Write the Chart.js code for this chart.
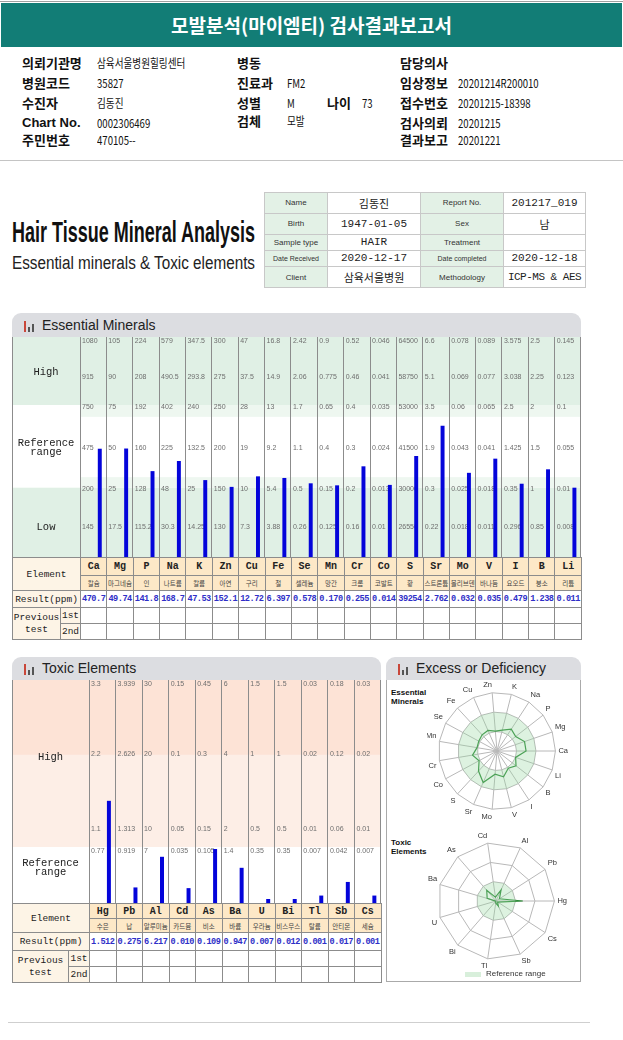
<!DOCTYPE html>
<html><head><meta charset="utf-8">
<script src="https://cdn.jsdelivr.net/npm/chart.js@4.4.1/dist/chart.umd.min.js"></script>
<style>
body{margin:0;width:623px;height:1040px;position:relative;background:#fff;overflow:hidden;font-family:"Noto Sans CJK KR",sans-serif;color:#111}
.a{position:absolute;white-space:nowrap}
.lb{font-weight:bold;font-size:13px;line-height:16px}
.v{font-size:12px;line-height:16px;transform:scaleX(.8);transform-origin:left center}
.fit{display:inline-block;transform-origin:left center}
.hdr{position:absolute;background:#dcdde1;border-radius:9px 9px 0 0;font:14px "Liberation Sans",Arial,sans-serif;color:#222}
.hdr span{position:absolute;left:30px;top:4px}
.ico{position:absolute;bottom:5px;width:2px}
table{border-collapse:collapse;table-layout:fixed;position:absolute}
td{border:1px solid #8c8c8c;padding:0;text-align:center;overflow:hidden;white-space:nowrap}
.info td{border-color:#c8c8c8}
.info .k{background:#e3f1e6;font:8px "Liberation Sans",Arial;color:#333}
.info .w{font:11px "Liberation Mono","Noto Sans CJK KR";color:#222}
.el td{font-family:"Liberation Mono",monospace;color:#222}
.el .h{background:#fde8c7}
.el .l{background:#fdf4e6;font-size:9.5px}
.el .sym{font-size:10px;font-weight:bold}
.el .kor{font-size:6.5px;font-family:"Noto Sans CJK KR";color:#444}
.el .res{font-size:8.6px;font-weight:bold;color:#2f2fc8;letter-spacing:-.5px}
</style></head>
<body>
<div class="a" style="left:0;top:1px;width:623px;height:1px;background:#a0a0a0"></div>
<div class="a" style="left:1px;top:3px;width:621px;height:44px;background:#127d76;color:#fff;font-size:19px;font-weight:bold;line-height:44px;text-align:center">모발분석(마이엠티) 검사결과보고서</div>

<div class="a lb" style="left:22px;top:55px">의뢰기관명</div><div class="a v" style="left:97px;top:55px">삼육서울병원힐링센터</div>
<div class="a lb" style="left:22px;top:75px">병원코드</div><div class="a v" style="left:97px;top:75px">35827</div>
<div class="a lb" style="left:22px;top:95px">수진자</div><div class="a v" style="left:97px;top:95px">김동진</div>
<div class="a lb" style="left:22px;top:115px;font-family:'Liberation Sans',Arial">Chart No.</div><div class="a v" style="left:97px;top:115px">0002306469</div>
<div class="a lb" style="left:22px;top:132px">주민번호</div><div class="a v" style="left:97px;top:132px">470105--</div>
<div class="a lb" style="left:237px;top:55px">병동</div>
<div class="a lb" style="left:237px;top:75px">진료과</div><div class="a v" style="left:287px;top:75px">FM2</div>
<div class="a lb" style="left:237px;top:95px">성별</div><div class="a v" style="left:287px;top:95px">M</div>
<div class="a lb" style="left:327px;top:95px">나이</div><div class="a v" style="left:362px;top:95px">73</div>
<div class="a lb" style="left:237px;top:113px">검체</div><div class="a v" style="left:287px;top:113px">모발</div>
<div class="a lb" style="left:400px;top:55px">담당의사</div>
<div class="a lb" style="left:400px;top:75px">임상정보</div><div class="a v" style="left:458px;top:75px">20201214R200010</div>
<div class="a lb" style="left:400px;top:95px">접수번호</div><div class="a v" style="left:458px;top:95px">20201215-18398</div>
<div class="a lb" style="left:400px;top:115px">검사의뢰</div><div class="a v" style="left:458px;top:115px">20201215</div>
<div class="a lb" style="left:400px;top:132px">결과보고</div><div class="a v" style="left:458px;top:132px">20201221</div>
<div class="a" style="left:0;top:160px;width:623px;height:1px;background:#c4c4c4"></div>

<div class="a" style="left:12px;top:215px"><span class="fit" data-fit="243" style="font:bold 30px 'Liberation Sans Narrow','Liberation Sans';color:#111">Hair Tissue Mineral Analysis</span></div>
<div class="a" style="left:12px;top:250px"><span class="fit" data-fit="243" style="font:18px 'Liberation Sans Narrow','Liberation Sans';color:#222">Essential minerals &amp; Toxic elements</span></div>

<table class="info" style="left:264px;top:192px;width:321px;height:96px">
<colgroup><col style="width:63px"><col style="width:93px"><col style="width:83px"><col style="width:82px"></colgroup>
<tr><td class="k">Name</td><td class="w">김동진</td><td class="k">Report No.</td><td class="w">201217_019</td></tr>
<tr><td class="k">Birth</td><td class="w">1947-01-05</td><td class="k">Sex</td><td class="w">남</td></tr>
<tr><td class="k">Sample type</td><td class="w">HAIR</td><td class="k">Treatment</td><td class="w"></td></tr>
<tr><td class="k" style="font-size:7px">Date Received</td><td class="w">2020-12-17</td><td class="k" style="font-size:7px">Date completed</td><td class="w">2020-12-18</td></tr>
<tr><td class="k">Client</td><td class="w">삼육서울병원</td><td class="k">Methodology</td><td class="w" style="letter-spacing:-.5px">ICP-MS &amp; AES</td></tr>
</table>

<div class="hdr" style="left:12px;top:313px;width:569px;height:24px"><i class="ico" style="left:12px;height:11px;background:#c9473a"></i><i class="ico" style="left:16px;height:5px;background:#555"></i><i class="ico" style="left:20px;height:8px;background:#555"></i><span>Essential Minerals</span></div>
<canvas id="eBar" class="a" width="570" height="220" style="left:12px;top:337px"></canvas>
<table id="eTab" class="el" style="left:12px;top:557px;width:570px"></table>

<div class="hdr" style="left:12px;top:657px;width:369px;height:23px"><i class="ico" style="left:12px;height:11px;background:#c9473a"></i><i class="ico" style="left:16px;height:5px;background:#555"></i><i class="ico" style="left:20px;height:8px;background:#555"></i><span style="top:3px">Toxic Elements</span></div>
<canvas id="tBar" class="a" width="370" height="223" style="left:12px;top:680px"></canvas>
<table id="tTab" class="el" style="left:12px;top:903px;width:369px"></table>

<div class="hdr" style="left:386px;top:657px;width:195px;height:23px"><i class="ico" style="left:12px;height:11px;background:#c9473a"></i><i class="ico" style="left:16px;height:5px;background:#555"></i><i class="ico" style="left:20px;height:8px;background:#555"></i><span style="top:3px">Excess or Deficiency</span></div>
<div class="a" style="left:386px;top:680px;width:193px;height:301px;border:1px solid #aaa;border-top:none"></div>
<div class="a" style="left:391px;top:688px;font:bold 8px/9px 'Liberation Sans',Arial">Essential<br>Minerals</div>
<div class="a" style="left:391px;top:838px;font:bold 8px/9px 'Liberation Sans',Arial">Toxic<br>Elements</div>
<canvas id="eRadar" class="a" width="142" height="142" style="left:427px;top:681px"></canvas>
<canvas id="tRadar" class="a" width="142" height="142" style="left:427px;top:831px"></canvas>
<div class="a" style="left:465px;top:972px;width:16px;height:5px;background:#d8efdb"></div>
<div class="a" style="left:486px;top:969px;font:8px/10px 'Liberation Sans',Arial;color:#333">Reference range</div>

<div class="a" style="left:8px;top:1022px;width:582px;height:1px;background:#cfcfcf"></div>

<script>
// essential minerals
const E_SYM = ['Ca','Mg','P','Na','K','Zn','Cu','Fe','Se','Mn','Cr','Co','S','Sr','Mo','V','I','B','Li'];
const E_KOR = ['칼슘','마그네슘','인','나트륨','칼륨','아연','구리','철','셀레늄','망간','크롬','코발트','황','스트론튬','몰리브덴','바나듐','요오드','붕소','리튬'];
const E_RESULT = [470.7,49.74,141.8,168.7,47.53,152.1,12.72,6.397,0.578,0.170,0.255,0.014,39254,2.762,0.032,0.035,0.479,1.238,0.011];
const E_TICKS = [
  [145,200,475,750,915,1080],[17.5,25,50,75,90,105],[115.2,128,160,192,208,224],[30.3,48,225,402,490.5,579],
  [14.25,25,132.5,240,293.8,347.5],[130,150,200,250,275,300],[7.3,10,19,28,37.5,47],[3.88,5.4,9.2,13,14.9,16.8],
  [0.26,0.5,1.1,1.7,2.06,2.42],[0.125,0.15,0.4,0.65,0.775,0.9],[0.16,0.2,0.3,0.4,0.46,0.52],[0.01,0.013,0.024,0.035,0.041,0.046],
  [26550,30000,41500,53000,58750,64500],[0.22,0.3,1.9,3.5,5.1,6.6],[0.018,0.025,0.043,0.06,0.069,0.078],[0.011,0.018,0.041,0.065,0.077,0.089],
  [0.296,0.35,1.425,2.5,3.038,3.575],[0.85,1,1.5,2,2.25,2.5],[0.008,0.01,0.055,0.1,0.123,0.145]
];
// toxic elements
const T_SYM = ['Hg','Pb','Al','Cd','As','Ba','U','Bi','Tl','Sb','Cs'];
const T_KOR = ['수은','납','알루미늄','카드뮴','비소','바륨','우라늄','비스무스','탈륨','안티몬','세슘'];
const T_RESULT = [1.512,0.275,6.217,0.010,0.109,0.947,0.007,0.012,0.001,0.017,0.001];
const T_TICKS = [[0.77,1.1,2.2,3.3],[0.919,1.313,2.626,3.939],[7,10,20,30],[0.035,0.05,0.1,0.15],[0.105,0.15,0.3,0.45],
  [1.4,2,4,6],[0.35,0.5,1,1.5],[0.35,0.5,1,1.5],[0.007,0.01,0.02,0.03],[0.042,0.06,0.12,0.18],[0.007,0.01,0.02,0.03]];

// where the tick levels sit on each chart (fraction of height)
const E_POS = [0.138,0.311,0.495,0.683,0.82,0.983];
const T_POS = [0.2333,0.3333,0.6667,1];

function toLevel(v, ticks, pos){
  if (v <= ticks[0]) {
    const s = (pos[1]-pos[0])/(ticks[1]-ticks[0]);
    return Math.max(0, pos[0]-(ticks[0]-v)*s);
  }
  for (let i = 1; i < ticks.length; i++)
    if (v <= ticks[i]) return pos[i-1] + (v-ticks[i-1])/(ticks[i]-ticks[i-1])*(pos[i]-pos[i-1]);
  return pos[pos.length-1];
}
const fmt = v => v >= 10000 ? String(Math.round(v)) : v < 1 ? v.toFixed(3) : v.toPrecision(4);

document.querySelectorAll('.fit').forEach(el => {
  el.style.transform = 'scaleX(' + (+el.dataset.fit / el.getBoundingClientRect().width) + ')';
});

const columns = {
  id: 'columns',
  beforeDatasetsDraw(chart, args, o) {
    const {ctx, chartArea: a, scales: {y}} = chart;
    const n = o.ticks.length, cw = a.width / n;
    ctx.save();
    o.bands.forEach(b => {
      const y1 = y.getPixelForValue(b[1]), y0 = y.getPixelForValue(b[0]);
      ctx.fillStyle = b[2];
      ctx.fillRect(b[3] ? a.left : 0, y1, b[3] ? a.width : a.right, y0 - y1);
    });
    ctx.strokeStyle = '#8c8c8c'; ctx.lineWidth = 1;
    ctx.beginPath();
    for (let i = 0; i <= n; i++) {
      const x = Math.floor(a.left + i*cw) + 0.5;
      ctx.moveTo(Math.min(x, a.right - 0.5), a.top); ctx.lineTo(Math.min(x, a.right - 0.5), a.bottom);
    }
    ctx.moveTo(0.5, a.top); ctx.lineTo(0.5, a.bottom);
    ctx.stroke();
    ctx.font = '7px "Liberation Sans Narrow","Liberation Sans"'; ctx.fillStyle = '#6e6e6e'; ctx.textBaseline = 'middle';
    o.ticks.forEach((t, i) => t.forEach((v, k) => {
      ctx.fillText(String(v), a.left + i*cw + 2, Math.max(y.getPixelForValue(o.pos[k]), a.top + 4));
    }));
    ctx.font = '10.5px "Liberation Mono"'; ctx.fillStyle = '#222'; ctx.textAlign = 'center';
    o.side.forEach(s => {
      const lines = s[0].split('\n');
      lines.forEach((ln, j) => ctx.fillText(ln, a.left/2, y.getPixelForValue(s[1]) + (j - (lines.length-1)/2)*9));
    });
    ctx.restore();
  }
};

function barChart(id, syms, vals, ticks, pos, padLeft, bands, side){
  const lv = vals.map((v, i) => toLevel(v, [0, ...ticks[i]], [0, ...pos]));
  return new Chart(document.getElementById(id), {
    type: 'bar',
    data: { labels: syms, datasets: [
      { data: syms.map(() => null) },
      { data: lv, backgroundColor: '#0404da', categoryPercentage: 1, barPercentage: 0.3, minBarLength: 4 }
    ]},
    options: {
      responsive: false, animation: false,
      datasets: { bar: { categoryPercentage: 1, barPercentage: 0.3 } },
      layout: { padding: { left: padLeft, right: 1 } },
      scales: { x: { display: false }, y: { display: false, min: 0, max: 1 } },
      plugins: { legend: { display: false }, tooltip: { enabled: false }, columns: { ticks, pos, bands, side } }
    },
    plugins: [columns]
  });
}

barChart('eBar', E_SYM, E_RESULT, E_TICKS, E_POS, 68,
  [[0.691,1,'#e0f0e5'],[0,0.315,'#e0f0e5'],[0.637,0.691,'#eef7f0',1],[0.315,0.363,'#eef7f0',1]],
  [['High',0.84],['Reference\nrange',0.495],['Low',0.135]]);
barChart('tBar', T_SYM, T_RESULT, T_TICKS, T_POS, 77,
  [[0.664,1,'#fde3d6'],[0.251,0.664,'#fdeee6']],
  [['High',0.655],['Reference\nrange',0.16]]);

function table(id, syms, kor, vals, w1, w2, cw, hs){
  let h = '<colgroup><col style="width:'+w1+'px"><col style="width:'+w2+'px">' + syms.map(() => '<col style="width:'+cw+'px">').join('') + '</colgroup>';
  h += '<tr style="height:'+hs[0]+'px"><td class="h l" colspan="2" rowspan="2">Element</td>' + syms.map(s => '<td class="h sym">'+s+'</td>').join('') + '</tr>';
  h += '<tr style="height:'+hs[1]+'px">' + kor.map(k => '<td class="h kor">'+k+'</td>').join('') + '</tr>';
  h += '<tr style="height:'+hs[2]+'px"><td class="l" colspan="2">Result(ppm)</td>' + vals.map(v => '<td class="res">'+fmt(v)+'</td>').join('') + '</tr>';
  h += '<tr style="height:'+hs[3]+'px"><td class="l" rowspan="2" style="line-height:12px">Previous<br>test</td><td class="l">1st</td>' + syms.map(() => '<td></td>').join('') + '</tr>';
  h += '<tr style="height:'+hs[4]+'px"><td class="l">2nd</td>' + syms.map(() => '<td></td>').join('') + '</tr>';
  document.getElementById(id).innerHTML = h;
}
table('eTab', E_SYM, E_KOR, E_RESULT, 48, 20, 26.37, [18,15,17,16,16]);
table('tTab', T_SYM, T_KOR, T_RESULT, 56, 21, 26.5, [15,14,18,16,16]);

function radar(id, syms, vals, ticks, lvPos, max, band, start){
  const u = vals.map((v, i) => toLevel(v, [0, ...ticks[i]], lvPos));
  const rev = a => a.slice().reverse();
  const sets = band[0] > 0
    ? [{ data: syms.map(() => band[1]), fill: '+1', backgroundColor: 'rgba(150,215,160,0.32)', borderWidth: 0, pointRadius: 0 },
       { data: syms.map(() => band[0]), fill: false, borderWidth: 0, pointRadius: 0 }]
    : [{ data: syms.map(() => band[1]), fill: 'origin', backgroundColor: 'rgba(150,215,160,0.32)', borderWidth: 0, pointRadius: 0 }];
  sets.push({ data: rev(u), borderColor: '#2b8a36', borderWidth: 1.2, fill: false, pointRadius: 0 });
  return new Chart(document.getElementById(id), {
    type: 'radar',
    data: { labels: rev(syms), datasets: sets },
    options: {
      responsive: false, animation: false,
      plugins: { legend: { display: false }, tooltip: { enabled: false } },
      scales: { r: { min: 0, max, startAngle: start,
        ticks: { display: false, stepSize: max/3 },
        grid: { color: '#b8b8b8' }, angleLines: { color: '#b8b8b8' },
        pointLabels: { font: { size: 7.5, family: 'Liberation Sans' }, color: '#333', padding: 3 } } }
    }
  });
}
radar('eRadar', E_SYM, E_RESULT, E_TICKS, [0,1,2,3,4,5,6], 6, [2,4], 90 + 360/19);
radar('tRadar', T_SYM, T_RESULT, T_TICKS, [0,0.7,1,2,3], 3, [0,1], 90 + 360/11);
</script>
</body></html>
